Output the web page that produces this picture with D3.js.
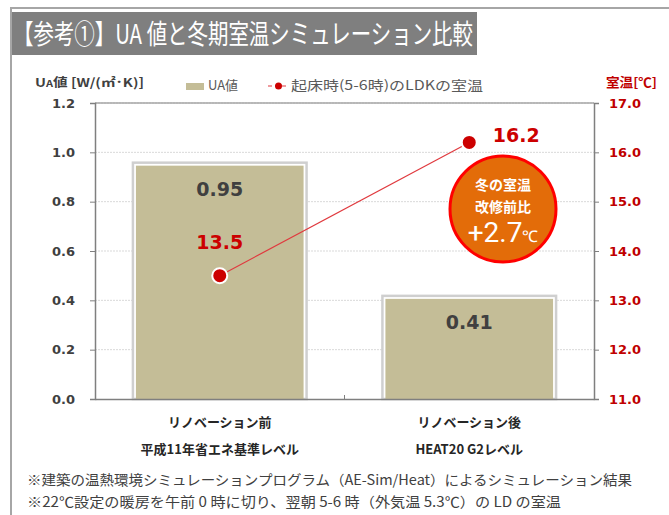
<!DOCTYPE html>
<html>
<head>
<meta charset="utf-8">
<script src="https://cdn.jsdelivr.net/npm/d3@7"></script>
<style>
  body { margin: 0; background: #fff; }
  svg { display: block; font-family: "Noto Sans CJK JP", "DejaVu Sans", sans-serif; }
  .num { font-family: "DejaVu Sans", Verdana, sans-serif; font-weight: bold; }
</style>
</head>
<body>
<div id="chart"></div>
<script>
const categories = ["リノベーション前", "リノベーション後"];
const subLabels = ["平成11年省エネ基準レベル", "HEAT20 G2レベル"];
const uaValues = [0.95, 0.41];
const tempValues = [13.5, 16.2];
const uaTicks = [0, 0.2, 0.4, 0.6, 0.8, 1.0, 1.2];
const tempTicks = [11, 12, 13, 14, 15, 16, 17];
const notes = [
  "※建築の温熱環境シミュレーションプログラム（AE-Sim/Heat）によるシミュレーション結果",
  "※22℃設定の暖房を午前 0 時に切り、翌朝 5-6 時（外気温 5.3℃）の LD の室温"
];

const width = 669, height = 515;
const plot = {left: 95, right: 594, top: 103, bottom: 399};

const svg = d3.select("#chart").append("svg")
  .attr("width", width).attr("height", height);

// outer frame
svg.append("path")
  .attr("d", `M11,${height} L11,8 L${width},8`)
  .attr("fill", "none").attr("stroke", "#a6a6a6").attr("stroke-width", 2);

// title
svg.append("rect").attr("x", 12).attr("y", 12).attr("width", 465).attr("height", 43).attr("fill", "#7f7f7f");
svg.append("text").attr("x", 13).attr("y", 44)
  .attr("fill", "#fff").style("font-size", "27px").style("font-weight", 400)
  .attr("textLength", 460).attr("lengthAdjust", "spacingAndGlyphs")
  .text("【参考①】UA 値と冬期室温シミュレーション比較");

const x = d3.scaleBand().domain(categories).range([plot.left, plot.right]).paddingInner(0.32).paddingOuter(0.16);
const y = d3.scaleLinear().domain([0, 1.2]).range([plot.bottom, plot.top]);
const y2 = d3.scaleLinear().domain([11, 17]).range([plot.bottom, plot.top]);

// grid
svg.append("g").selectAll("line").data(uaTicks.slice(1)).join("line")
  .attr("x1", plot.left).attr("x2", plot.right)
  .attr("y1", d => y(d)).attr("y2", d => y(d))
  .attr("stroke", "#d9d9d9").attr("stroke-dasharray", "2,1");

// plot border top
svg.append("line").attr("x1", plot.left).attr("x2", plot.right).attr("y1", plot.top).attr("y2", plot.top)
  .attr("stroke", "#a6a6a6").attr("stroke-width", 1.5);

// bars
const bars = svg.append("g").selectAll("g").data(uaValues).join("g");
bars.append("rect")
  .attr("x", (d, i) => x(categories[i]) - 2).attr("y", d => y(d) - 2)
  .attr("width", x.bandwidth() + 4).attr("height", d => plot.bottom - y(d) + 2)
  .attr("fill", "#fff").attr("stroke", "#cfcfcf").attr("stroke-width", 2.5);
bars.append("rect")
  .attr("x", (d, i) => x(categories[i]) + 1).attr("y", d => y(d) + 1)
  .attr("width", x.bandwidth() - 2).attr("height", d => plot.bottom - y(d) - 1)
  .attr("fill", "#c4bd97");
bars.append("text").attr("class", "num")
  .attr("x", (d, i) => x(categories[i]) + x.bandwidth() / 2).attr("y", d => y(d) + 31)
  .attr("text-anchor", "middle").attr("fill", "#404040").style("font-size", "19px")
  .text(d => d.toFixed(2));

// axes
const axL = svg.append("g").attr("transform", `translate(${plot.left},0)`)
  .call(d3.axisLeft(y).tickValues(uaTicks).tickSize(5).tickFormat(d3.format(".1f")));
axL.select(".domain").attr("stroke", "#7f7f7f").attr("stroke-width", 1.5);
axL.selectAll(".tick line").attr("stroke", "#7f7f7f");
axL.selectAll("text").attr("class", "num").attr("x", -20).attr("fill", "#404040").style("font-size", "13px");

const axR = svg.append("g").attr("transform", `translate(${plot.right},0)`)
  .call(d3.axisRight(y2).tickValues(tempTicks).tickSize(5).tickFormat(d3.format(".1f")));
axR.select(".domain").attr("stroke", "#7f7f7f").attr("stroke-width", 1.5);
axR.selectAll(".tick line").attr("stroke", "#7f7f7f");
axR.selectAll("text").attr("class", "num").attr("x", 15).attr("fill", "#c00000").style("font-size", "13px");

const axB = svg.append("g").attr("transform", `translate(0,${plot.bottom})`)
  .call(d3.axisBottom(x).tickSize(0).tickFormat(""));
axB.select(".domain").attr("stroke", "#7f7f7f").attr("stroke-width", 1.5);
svg.append("line").attr("x1", (plot.left + plot.right) / 2).attr("x2", (plot.left + plot.right) / 2)
  .attr("y1", plot.bottom).attr("y2", plot.bottom - 4).attr("stroke", "#7f7f7f");

// category labels
categories.forEach((c, i) => {
  const cx = x(c) + x.bandwidth() / 2;
  svg.append("text").attr("x", cx).attr("y", 427).attr("text-anchor", "middle")
    .attr("fill", "#262626").style("font-size", "13px").style("font-weight", "bold").text(c);
  svg.append("text").attr("x", cx).attr("y", 454).attr("text-anchor", "middle")
    .attr("fill", "#262626").style("font-size", "13px").style("font-weight", "bold").text(subLabels[i]);
});

// line series
const line = d3.line().x((d, i) => x(categories[i]) + x.bandwidth() / 2).y(d => y2(d));
svg.append("path").datum(tempValues).attr("d", line)
  .attr("fill", "none").attr("stroke", "#e0393e").attr("stroke-width", 1.2);
svg.append("g").selectAll("circle").data(tempValues).join("circle")
  .attr("cx", (d, i) => x(categories[i]) + x.bandwidth() / 2).attr("cy", d => y2(d))
  .attr("r", 7.5).attr("fill", "#cc0000").attr("stroke", "#fff").attr("stroke-width", 2);
svg.append("g").selectAll("text").data(tempValues).join("text").attr("class", "num")
  .attr("x", (d, i) => x(categories[i]) + x.bandwidth() / 2 + (i === 0 ? 0 : 47))
  .attr("y", (d, i) => y2(d) + (i === 0 ? -27 : 0))
  .attr("text-anchor", "middle").attr("fill", "#cc0000").style("font-size", "19px")
  .text(d => d.toFixed(1));

// callout
const cg = svg.append("g").attr("transform", "translate(503,209)");
cg.append("circle").attr("r", 53).attr("fill", "#e36c09").attr("stroke", "#ff0000").attr("stroke-width", 3);
cg.append("text").attr("y", -19).attr("text-anchor", "middle").attr("fill", "#fff")
  .style("font-size", "14px").style("font-weight", "bold").text("冬の室温");
cg.append("text").attr("y", 3).attr("text-anchor", "middle").attr("fill", "#fff")
  .style("font-size", "14px").style("font-weight", "bold").text("改修前比");
const big = cg.append("text").attr("y", 33).attr("text-anchor", "middle").attr("fill", "#fff")
  .style("font-family", "'Liberation Sans Narrow', 'Roboto', sans-serif");
big.append("tspan").style("font-size", "28px").text("+" + d3.format(".1f")(tempValues[1] - tempValues[0]));
big.append("tspan").style("font-size", "16px").text("℃");

// axis titles
const t1 = svg.append("text").attr("x", 35).attr("y", 87).attr("fill", "#404040")
  .style("font-size", "12px").style("font-weight", "bold")
  .attr("textLength", 109).attr("lengthAdjust", "spacingAndGlyphs");
t1.append("tspan").text("U");
t1.append("tspan").style("font-size", "9px").text("A");
t1.append("tspan").text("値 [W/(㎡･K)]");
svg.append("text").attr("x", 606).attr("y", 87).attr("fill", "#c00000")
  .style("font-size", "13px").style("font-weight", "bold")
  .attr("textLength", 51).attr("lengthAdjust", "spacingAndGlyphs").text("室温[℃]");

// legend
svg.append("rect").attr("x", 186).attr("y", 83).attr("width", 18).attr("height", 7).attr("fill", "#c4bd97");
svg.append("text").attr("x", 208).attr("y", 90).attr("fill", "#595959").style("font-size", "13px").text("UA値");
svg.append("line").attr("x1", 268).attr("x2", 289).attr("y1", 86).attr("y2", 86)
  .attr("stroke", "#e0393e").attr("stroke-width", 1.2).attr("stroke-dasharray", "4,3");
svg.append("circle").attr("cx", 278.5).attr("cy", 86).attr("r", 3.5).attr("fill", "#cc0000");
svg.append("text").attr("x", 291).attr("y", 90).attr("fill", "#595959").style("font-size", "13px")
  .attr("textLength", 192).attr("lengthAdjust", "spacingAndGlyphs")
  .text("起床時(5-6時)のLDKの室温");

// notes
const noteLen = [605, 534];
notes.forEach((n, i) => {
  svg.append("text").attr("x", 27).attr("y", 485 + i * 22).attr("fill", "#404040")
    .style("font-size", "14px")
    .attr("textLength", noteLen[i]).attr("lengthAdjust", "spacingAndGlyphs")
    .text(n);
});
</script>
</body>
</html>
